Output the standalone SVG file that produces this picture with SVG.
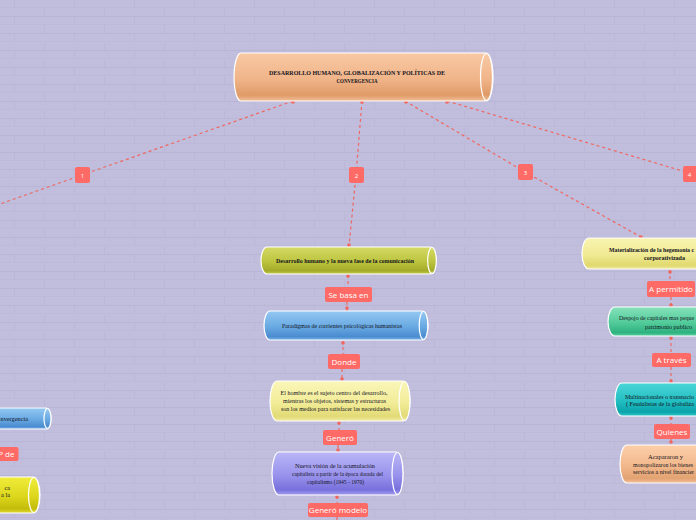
<svg xmlns="http://www.w3.org/2000/svg" width="696" height="520" viewBox="0 0 696 520">
<defs>
<pattern id="brick" width="60" height="17" patternUnits="userSpaceOnUse">
<rect width="60" height="17" fill="#c1bddc"/>
<rect y="7.5" width="60" height="1" fill="#b9b5d5"/>
<rect y="8.5" width="60" height="0.6" fill="#c7c3e1"/>
<rect y="16" width="60" height="1" fill="#b9b5d5"/>
<rect x="14" y="0" width="1" height="7.5" fill="#bbb7d7"/>
<rect x="44" y="8.5" width="1" height="7.5" fill="#bbb7d7"/>
</pattern>
<linearGradient id="gRoot" x1="0" y1="0" x2="0" y2="1"><stop offset="0" stop-color="#f8c9a4"/><stop offset="0.55" stop-color="#f0b489"/><stop offset="0.88" stop-color="#df9a67"/><stop offset="1" stop-color="#f2bf98"/></linearGradient>
<linearGradient id="gGreen" x1="0" y1="0" x2="0" y2="1"><stop offset="0" stop-color="#d4da66"/><stop offset="0.55" stop-color="#bcc43e"/><stop offset="0.88" stop-color="#a2aa28"/><stop offset="1" stop-color="#c4cb50"/></linearGradient>
<linearGradient id="gBlue" x1="0" y1="0" x2="0" y2="1"><stop offset="0" stop-color="#94c8f2"/><stop offset="0.55" stop-color="#68a9e2"/><stop offset="0.88" stop-color="#4a8cd0"/><stop offset="1" stop-color="#78b2e6"/></linearGradient>
<linearGradient id="gPale" x1="0" y1="0" x2="0" y2="1"><stop offset="0" stop-color="#faf6b8"/><stop offset="0.55" stop-color="#f2ec98"/><stop offset="0.88" stop-color="#e2da76"/><stop offset="1" stop-color="#f0ea9e"/></linearGradient>
<linearGradient id="gPurple" x1="0" y1="0" x2="0" y2="1"><stop offset="0" stop-color="#bab6f6"/><stop offset="0.55" stop-color="#9892ec"/><stop offset="0.88" stop-color="#7870dc"/><stop offset="1" stop-color="#a49ef0"/></linearGradient>
<linearGradient id="gYel3" x1="0" y1="0" x2="0" y2="1"><stop offset="0" stop-color="#f8f4b0"/><stop offset="0.55" stop-color="#f0ea94"/><stop offset="0.88" stop-color="#e0d86e"/><stop offset="1" stop-color="#eee89a"/></linearGradient>
<linearGradient id="gMint" x1="0" y1="0" x2="0" y2="1"><stop offset="0" stop-color="#86e2ba"/><stop offset="0.55" stop-color="#52ca9a"/><stop offset="0.88" stop-color="#2eb280"/><stop offset="1" stop-color="#5ccfa2"/></linearGradient>
<linearGradient id="gTeal" x1="0" y1="0" x2="0" y2="1"><stop offset="0" stop-color="#4cd6d8"/><stop offset="0.55" stop-color="#22bec2"/><stop offset="0.88" stop-color="#0aa4aa"/><stop offset="1" stop-color="#34c6ca"/></linearGradient>
<linearGradient id="gOrange" x1="0" y1="0" x2="0" y2="1"><stop offset="0" stop-color="#fccfaa"/><stop offset="0.55" stop-color="#f2b88c"/><stop offset="0.88" stop-color="#e2a272"/><stop offset="1" stop-color="#f2c098"/></linearGradient>
<linearGradient id="gYellow" x1="0" y1="0" x2="0" y2="1"><stop offset="0" stop-color="#f0ec3a"/><stop offset="0.55" stop-color="#dcd61c"/><stop offset="0.88" stop-color="#c4bc0a"/><stop offset="1" stop-color="#e0da30"/></linearGradient>
</defs>
<style>
.body{stroke:#ffffff;stroke-width:1.2}
.end{stroke:#ffffff;stroke-width:1.2}
.t{font-family:"Liberation Serif","Times New Roman",serif;font-size:6.3px;fill:#14141e;text-anchor:middle}
.tb{font-weight:bold}
.lbl{fill:#fe6a65}
.lt{font-family:"Open Sans","Noto Sans",sans-serif;font-size:8px;fill:#ffffff;text-anchor:middle}
.num{font-family:"Open Sans","Noto Sans",sans-serif;font-size:6px;fill:#ffffff;text-anchor:middle}
.c{stroke:#f0675f;stroke-width:1.2;stroke-dasharray:3 3;fill:none}
.d{fill:#f0675f}
.ts{text-anchor:start}
.te{text-anchor:end}
</style>
<rect width="696" height="520" fill="url(#brick)"/>

<g id="connectors">
<path class="c" d="M293 101 L82 175 L0 204"/>
<path class="c" d="M362 101 L356 175 L349 246"/>
<path class="c" d="M405 101 L525 172 L641 237"/>
<path class="c" d="M447 101 L696 175"/>
<path class="c" d="M348 275 L348 287"/>
<path class="c" d="M347 302 L347 311"/>
<path class="c" d="M343 341 L343 354"/>
<path class="c" d="M342 369 L342 381"/>
<path class="c" d="M339 422 L339 430"/>
<path class="c" d="M338 445 L338 452"/>
<path class="c" d="M337 496 L337 503"/>
<path class="c" d="M337 517 L337 520"/>
<path class="c" d="M670 270 L670 281"/>
<path class="c" d="M671 297 L671 307"/>
<path class="c" d="M671 337 L671 353"/>
<path class="c" d="M671 367 L671 383"/>
<path class="c" d="M671 417 L671 424"/>
<path class="c" d="M671 439 L671 445"/>
<circle class="d" cx="293" cy="102" r="1.8"/>
<circle class="d" cx="362" cy="102" r="1.8"/>
<circle class="d" cx="406" cy="102" r="1.8"/>
<circle class="d" cx="447" cy="102" r="1.8"/>
<circle class="d" cx="349" cy="245" r="1.8"/>
<circle class="d" cx="348" cy="276" r="1.8"/>
<circle class="d" cx="347" cy="308" r="1.8"/>
<circle class="d" cx="343" cy="343" r="1.8"/>
<circle class="d" cx="342" cy="379" r="1.8"/>
<circle class="d" cx="339" cy="423" r="1.8"/>
<circle class="d" cx="338" cy="450" r="1.8"/>
<circle class="d" cx="337" cy="497" r="1.8"/>
<circle class="d" cx="641" cy="237" r="1.8"/>
<circle class="d" cx="670" cy="272" r="1.8"/>
<circle class="d" cx="671" cy="305" r="1.8"/>
<circle class="d" cx="671" cy="338" r="1.8"/>
<circle class="d" cx="671" cy="381" r="1.8"/>
<circle class="d" cx="671" cy="418" r="1.8"/>
<circle class="d" cx="671" cy="442" r="1.8"/>
</g>

<g id="root">
<rect class="body" x="234" y="53" width="259" height="48" rx="7" ry="24" fill="url(#gRoot)"/>
<ellipse class="end" cx="486.5" cy="77" rx="6" ry="23.5" fill="url(#gRoot)"/>
<text class="t tb" x="357" y="75" textLength="176" lengthAdjust="spacingAndGlyphs">DESARROLLO HUMANO, GLOBALIZACIÓN Y POLÍTICAS DE</text>
<text class="t tb" x="357" y="83" textLength="41" lengthAdjust="spacingAndGlyphs">CONVERGENCIA</text>
</g>

<g id="lbl1"><rect class="lbl" x="75" y="167" width="15" height="16" rx="2"/><text class="num" x="82.5" y="177.5">1</text></g>
<g id="lbl2"><rect class="lbl" x="349" y="167" width="15" height="16" rx="2"/><text class="num" x="356.5" y="177.5">2</text></g>
<g id="lbl3"><rect class="lbl" x="518" y="164" width="15" height="16" rx="2"/><text class="num" x="525.5" y="174.5">3</text></g>
<g id="lbl4"><rect class="lbl" x="683" y="166" width="15" height="16" rx="2"/><text class="num" x="689.5" y="176.5">4</text></g>

<g id="n2">
<rect class="body" x="261" y="247" width="175" height="27" rx="6" ry="13.5" fill="url(#gGreen)"/>
<ellipse class="end" cx="432" cy="260.5" rx="4.3" ry="13" fill="url(#gGreen)"/>
<text class="t tb" x="345" y="263" textLength="138" lengthAdjust="spacingAndGlyphs">Desarrollo humano y la nueva fase de la comunicación</text>
</g>
<g id="l-sebasa"><rect class="lbl" x="325" y="287" width="47" height="15" rx="2"/><text class="lt" x="348.5" y="297.5">Se basa en</text></g>

<g id="n2a">
<rect class="body" x="264" y="311" width="164" height="29" rx="6" ry="14.5" fill="url(#gBlue)"/>
<ellipse class="end" cx="423.5" cy="325.5" rx="4.3" ry="14" fill="url(#gBlue)"/>
<text class="t" x="342" y="328" textLength="120" lengthAdjust="spacingAndGlyphs">Paradigmas de corrientes psicológicas humanistas</text>
</g>
<g id="l-donde"><rect class="lbl" x="328" y="354" width="32" height="15" rx="2"/><text class="lt" x="344" y="364.5">Donde</text></g>

<g id="n2b">
<rect class="body" x="270" y="381" width="140" height="40" rx="7" ry="20" fill="url(#gPale)"/>
<ellipse class="end" cx="404.5" cy="401" rx="5.5" ry="19.5" fill="url(#gPale)"/>
<text class="t" x="334" y="395" textLength="107" lengthAdjust="spacingAndGlyphs">El hombre es el sujeto centro del desarrollo,</text>
<text class="t" x="334.5" y="403" textLength="103" lengthAdjust="spacingAndGlyphs">mientras los objetos, sistemas y estructuras</text>
<text class="t" x="335.5" y="411" textLength="109" lengthAdjust="spacingAndGlyphs">son los medios para satisfacer las necesidades</text>
</g>
<g id="l-genero"><rect class="lbl" x="323" y="430" width="34" height="15" rx="2"/><text class="lt" x="340" y="440.5">Generó</text></g>

<g id="n2c">
<rect class="body" x="272" y="452" width="131" height="43" rx="7" ry="21.5" fill="url(#gPurple)"/>
<ellipse class="end" cx="397.5" cy="473.5" rx="5.5" ry="21" fill="url(#gPurple)"/>
<text class="t" x="335" y="468" textLength="80" lengthAdjust="spacingAndGlyphs">Nueva visión de la acumulación</text>
<text class="t" x="337.5" y="476" textLength="91" lengthAdjust="spacingAndGlyphs">capitalista a partir  de la época dorada del</text>
<text class="t" x="335.5" y="484" textLength="57" lengthAdjust="spacingAndGlyphs">capitalismo (1945 - 1970)</text>
</g>
<g id="l-generomodelo"><rect class="lbl" x="308" y="503" width="60" height="14" rx="2"/><text class="lt" x="338" y="513">Generó modelo</text></g>

<g id="n3">
<rect class="body" x="582" y="238" width="170" height="31" rx="7" ry="15.5" fill="url(#gYel3)"/>
<text class="t tb ts" x="609" y="252" textLength="85" lengthAdjust="spacingAndGlyphs">Materialización de la hegemonía c</text>
<text class="t tb" x="664.5" y="260" textLength="41" lengthAdjust="spacingAndGlyphs">corporativizada</text>
</g>
<g id="l-permitido"><rect class="lbl" x="647" y="281" width="48" height="16" rx="2"/><text class="lt" x="671" y="291.5">A permitido</text></g>

<g id="n3a">
<rect class="body" x="608" y="307" width="150" height="29" rx="7" ry="14.5" fill="url(#gMint)"/>
<text class="t ts" x="619" y="320" textLength="75" lengthAdjust="spacingAndGlyphs">Despojo de capitales mas peque</text>
<text class="t" x="668.5" y="329" textLength="47" lengthAdjust="spacingAndGlyphs">patrimonio publico</text>
</g>
<g id="l-atraves"><rect class="lbl" x="652" y="353" width="39" height="14" rx="2"/><text class="lt" x="671.5" y="363">A través</text></g>

<g id="n3b">
<rect class="body" x="615" y="383" width="150" height="33" rx="7" ry="16.5" fill="url(#gTeal)"/>
<text class="t ts" x="625" y="399" textLength="69" lengthAdjust="spacingAndGlyphs">Multinacionales o transnacio</text>
<text class="t ts" x="626" y="406" textLength="68" lengthAdjust="spacingAndGlyphs">( Feudalistas de  la globaliza</text>
</g>
<g id="l-quienes"><rect class="lbl" x="654" y="424" width="36" height="15" rx="2"/><text class="lt" x="672" y="434.5">Quienes</text></g>

<g id="n3c">
<rect class="body" x="620" y="445" width="150" height="38" rx="7" ry="19" fill="url(#gOrange)"/>
<text class="t" x="665.5" y="459" textLength="35" lengthAdjust="spacingAndGlyphs">Acapararon  y</text>
<text class="t ts" x="633" y="466.5" textLength="60" lengthAdjust="spacingAndGlyphs">monopolizaron los bienes</text>
<text class="t ts" x="633" y="474" textLength="61" lengthAdjust="spacingAndGlyphs">servicios a nivel financier</text>
</g>

<g id="n1a">
<rect class="body" x="-60" y="408" width="111" height="21" rx="5" ry="10.5" fill="url(#gBlue)"/>
<ellipse class="end" cx="47.5" cy="418.5" rx="3.5" ry="10" fill="url(#gBlue)"/>
<text class="t te" x="28" y="421">nvergencia</text>
</g>
<g id="l-pde"><rect class="lbl" x="-20" y="447" width="38.5" height="14" rx="2"/><text class="lt te" x="14.5" y="457">P de</text></g>
<g id="n1b">
<rect class="body" x="-60" y="477" width="100" height="36" rx="7" ry="18" fill="url(#gYellow)"/>
<ellipse class="end" cx="34" cy="495" rx="5.5" ry="17.5" fill="url(#gYellow)"/>
<text class="t te" x="10" y="490">ca</text>
<text class="t te" x="10" y="497">a la</text>
</g>
</svg>
